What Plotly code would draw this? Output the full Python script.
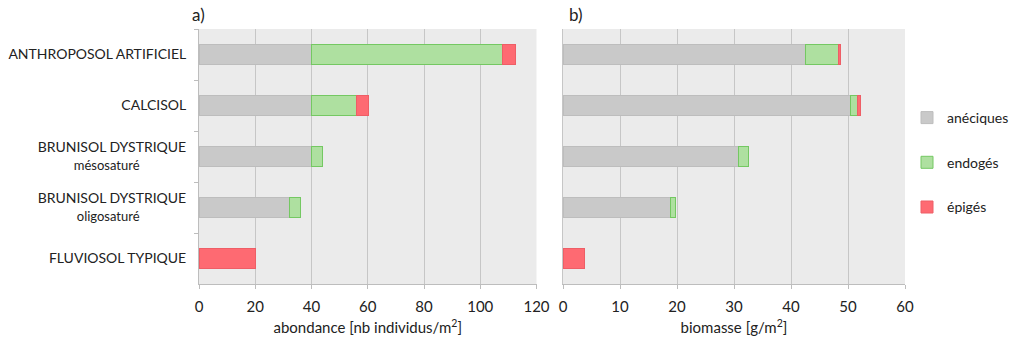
import plotly.graph_objects as go

NB = "\u00a0"
categories = [
    "ANTHROPOSOL ARTIFICIEL",
    "CALCISOL",
    "BRUNISOL DYSTRIQUE<br><span style='font-size:13px'>mésosaturé" + NB * 14 + "</span>",
    "BRUNISOL DYSTRIQUE<br><span style='font-size:13px'>oligosaturé" + NB * 14 + "</span>",
    "FLUVIOSOL TYPIQUE",
]
series_names = ["anéciques", "endogés", "épigés"]

abondance_aneciques = [40, 40, 40, 32, None]
abondance_endoges = [68, 16, 4, 4, None]
abondance_epiges = [4.5, 4.3, None, None, 20]

biomasse_aneciques = [42.5, 50.5, 30.8, 18.9, None]
biomasse_endoges = [5.9, 1.1, 1.8, 0.8, None]
biomasse_epiges = [0.3, 0.6, None, None, 3.7]

x_ticks_a = [0, 20, 40, 60, 80, 100, 120]
x_ticks_b = [0, 10, 20, 30, 40, 50, 60]

fills = ["#c9c9c9", "#aee0a0", "#fe6a72"]
borders = ["#bdbdbd", "#74c862", "#ee5e66"]

W, H = 1024, 339
fig = go.Figure()

abond = [abondance_aneciques, abondance_endoges, abondance_epiges]
bio = [biomasse_aneciques, biomasse_endoges, biomasse_epiges]
for i, name in enumerate(series_names):
    fig.add_trace(go.Bar(
        y=categories, x=abond[i], orientation="h", name=name,
        marker=dict(color=fills[i], line=dict(color=borders[i], width=1)),
        xaxis="x", yaxis="y", legendgroup=name, showlegend=True,
    ))
    fig.add_trace(go.Bar(
        y=categories, x=bio[i], orientation="h", name=name,
        marker=dict(color=fills[i], line=dict(color=borders[i], width=1)),
        xaxis="x2", yaxis="y2", legendgroup=name, showlegend=False,
    ))

top = 1 - 29 / H
bot = 1 - 284 / H
font_main = "Lato, 'Open Sans', sans-serif"

xa_common = dict(
    gridcolor="#c6c6c6", gridwidth=1.2, zeroline=False,
    showline=True, linecolor="#bdbdbd", linewidth=1,
    ticks="outside", ticklen=4, tickcolor="#bdbdbd",
    ticklabelstandoff=5,
    tickfont=dict(family=font_main, size=15, color="#222"),
    automargin=False,
)
title_font = dict(family=font_main, size=15, color="#222")

fig.update_layout(
    width=W, height=H,
    margin=dict(l=0, r=0, t=0, b=0),
    paper_bgcolor="white", plot_bgcolor="#ebebeb",
    barmode="stack", bargap=0.59,
    font=dict(family=font_main, size=14, color="#222"),
    xaxis=dict(domain=[199 / W, 536.5 / W], range=[0, 120], tickvals=x_ticks_a,
               title=dict(text="abondance [nb individus/m<sup>2</sup>]", font=title_font, standoff=8),
               anchor="y", **xa_common),
    xaxis2=dict(domain=[563 / W, 905 / W], range=[0, 60], tickvals=x_ticks_b,
                title=dict(text="biomasse [g/m<sup>2</sup>]", font=title_font, standoff=8),
                anchor="y2", **xa_common),
    yaxis=dict(domain=[bot, top], categoryorder="array", categoryarray=categories,
               autorange="reversed", showgrid=False, zeroline=False,
               showline=True, linecolor="#bdbdbd", ticks="outside", ticklen=4,
               tickcolor="#bdbdbd", tickson="boundaries", ticklabelstandoff=9,
               tickfont=dict(family=font_main, size=14, color="#222"),
               automargin=False, anchor="x"),
    yaxis2=dict(domain=[bot, top], matches="y", showticklabels=False,
                showgrid=False, zeroline=False, showline=True, linecolor="#c6c6c6",
                ticks="", automargin=False, anchor="x2"),
    legend=dict(x=907 / W, y=1 - 102 / H, xanchor="left", yanchor="top",
                traceorder="grouped", tracegroupgap=23.5,
                font=dict(family=font_main, size=14, color="#222"),
                itemwidth=30, bgcolor="rgba(0,0,0,0)"),
    annotations=[
        dict(text="a)", x=190 / W, y=1 - 14 / H, xref="paper", yref="paper",
             xanchor="left", yanchor="middle", showarrow=False,
             font=dict(family=font_main, size=17, color="#222")),
        dict(text="b)", x=567 / W, y=1 - 14 / H, xref="paper", yref="paper",
             xanchor="left", yanchor="middle", showarrow=False,
             font=dict(family=font_main, size=17, color="#222")),
    ],
)

fig.write_html("out.html")
